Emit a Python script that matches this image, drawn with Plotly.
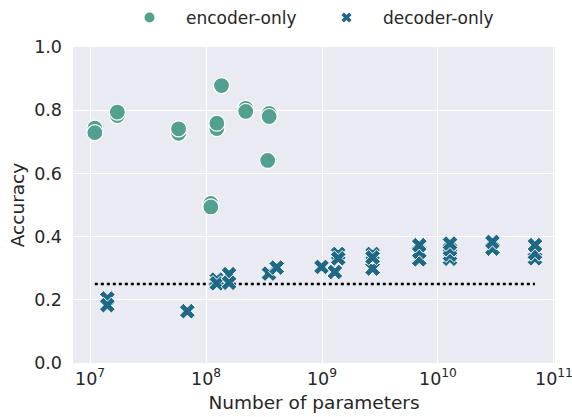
import plotly.graph_objects as go

# encoder-only models
enc_params = [1.1e7, 1.1e7, 1.72e7, 1.72e7, 5.8e7, 5.8e7, 1.1e8, 1.1e8,
              1.24e8, 1.24e8, 1.36e8, 2.2e8, 2.2e8, 3.4e8, 3.5e8, 3.5e8]
enc_acc = [0.743, 0.729, 0.783, 0.794, 0.727, 0.741, 0.505, 0.494,
           0.742, 0.759, 0.878, 0.806, 0.796, 0.641, 0.79, 0.78]

# decoder-only models
dec_params = [1.41e7, 1.41e7, 6.9e7, 1.24e8, 1.24e8, 1.58e8, 1.58e8,
              3.49e8, 4.07e8, 9.9e8, 1.29e9, 1.38e9, 1.38e9,
              2.73e9, 2.73e9, 2.73e9, 6.9e9, 6.9e9, 6.9e9,
              1.27e10, 1.27e10, 1.27e10, 1.27e10, 2.95e10, 2.95e10,
              6.86e10, 6.86e10, 6.86e10]
dec_acc = [0.204, 0.183, 0.164, 0.264, 0.252, 0.281, 0.254,
           0.283, 0.302, 0.304, 0.288, 0.345, 0.331,
           0.299, 0.345, 0.334, 0.328, 0.352, 0.373,
           0.33, 0.343, 0.36, 0.378, 0.362, 0.383,
           0.331, 0.347, 0.373]

baseline_x = [1.1e7, 6.86e10]
baseline_y = [0.25, 0.25]

ENC = "#52a08f"
DEC = "#1f6987"
TXT = "#262626"
FONT = "DejaVu Sans"

fig = go.Figure()
fig.add_trace(go.Scatter(x=baseline_x, y=baseline_y, mode="lines",
                         line=dict(color="black", width=2.5, dash="dot"),
                         showlegend=False, hoverinfo="skip"))
fig.add_trace(go.Scatter(x=enc_params, y=enc_acc, mode="markers",
                         marker=dict(symbol="circle", size=16, color=ENC,
                                     line=dict(color="white", width=1.2)),
                         showlegend=False))
fig.add_trace(go.Scatter(x=dec_params, y=dec_acc, mode="markers",
                         marker=dict(symbol="x", size=14, color=DEC,
                                     line=dict(color="white", width=1)),
                         showlegend=False))
# legend entries
fig.add_trace(go.Scatter(x=[None], y=[None], mode="markers", name="encoder-only",
                         marker=dict(symbol="circle", size=10, color=ENC)))
fig.add_trace(go.Scatter(x=[None], y=[None], mode="markers", name="decoder-only",
                         marker=dict(symbol="x", size=9, color=DEC)))

fig.update_layout(
    width=572, height=417,
    margin=dict(l=73, r=17, t=46.5, b=54, autoexpand=False),
    paper_bgcolor="white", plot_bgcolor="#eaeaf2",
    font=dict(family=FONT, color=TXT, size=17),
    legend=dict(orientation="h", x=0.4917, xanchor="center",
                yref="container", y=0.957, yanchor="middle",
                font=dict(size=17), itemwidth=63, entrywidth=119,
                bgcolor="rgba(0,0,0,0)"),
)
fig.update_xaxes(type="log", range=[6.853, 11.009],
                 tickvals=[1e7, 1e8, 1e9, 1e10, 1e11],
                 ticktext=["10<sup>7</sup>", "10<sup>8</sup>", "10<sup>9</sup>",
                           "10<sup>10</sup>", "10<sup>11</sup>"],
                 showgrid=True, gridcolor="white", gridwidth=1.2,
                 zeroline=False, showline=False, ticks="",
                 tickfont=dict(size=17.5), ticklabelstandoff=3,
                 ticklabeloverflow="allow",
                 title=dict(text="Number of parameters", font=dict(size=18.5), standoff=8))
fig.update_yaxes(range=[0, 1], tickvals=[0, 0.2, 0.4, 0.6, 0.8, 1.0],
                 ticktext=["0.0", "0.2", "0.4", "0.6", "0.8", "1.0"],
                 showgrid=True, gridcolor="white", gridwidth=1.2,
                 zeroline=False, showline=False, ticks="",
                 tickfont=dict(size=17.5), ticklabelstandoff=10,
                 title=dict(text="Accuracy", font=dict(size=18.5), standoff=4))

fig.write_html("out.html", config={"displayModeBar": False},
               post_script="document.body.style.margin='0';document.body.style.padding='0';")
